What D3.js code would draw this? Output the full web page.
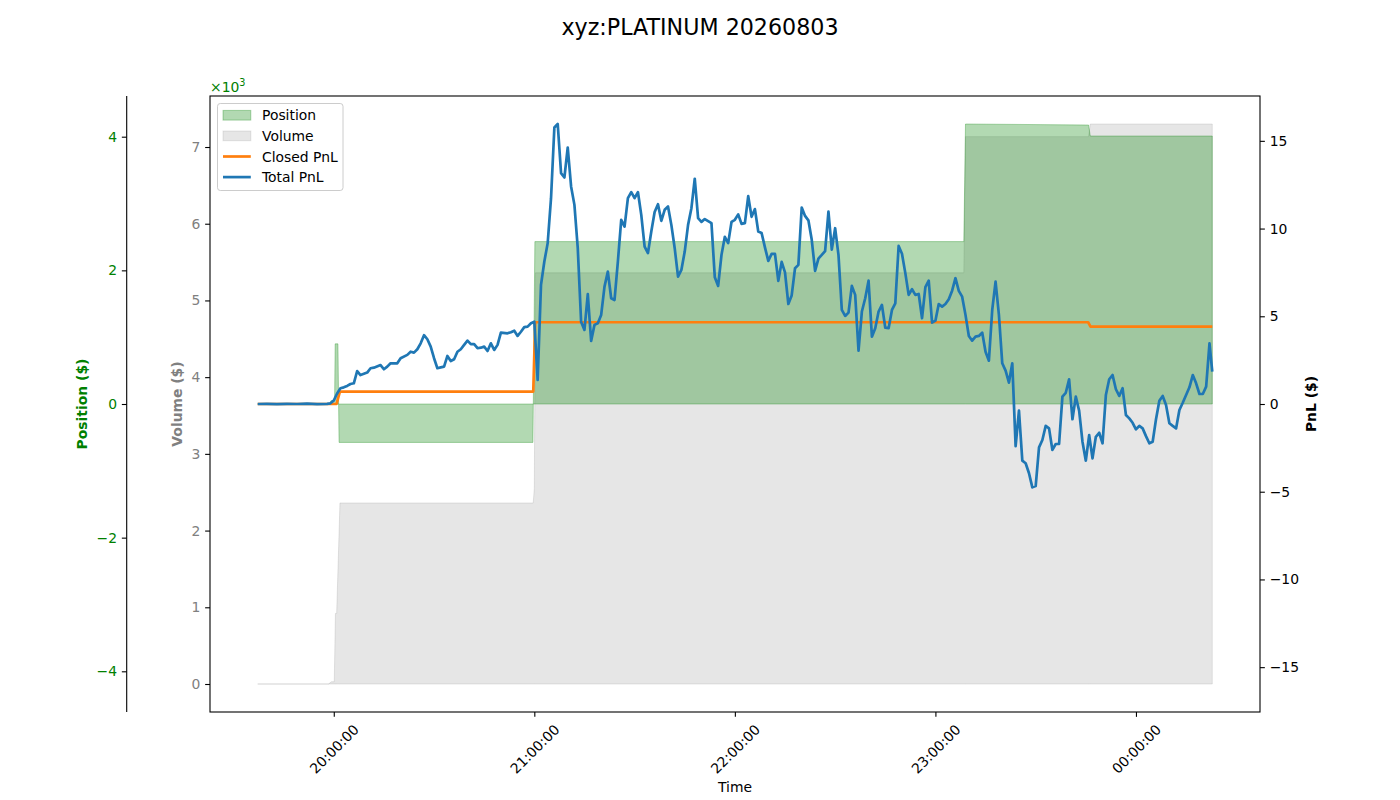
<!DOCTYPE html>
<html>
<head>
<meta charset="utf-8">
<script src="https://cdn.jsdelivr.net/npm/d3@7"></script>
<style>
  body { margin: 0; background: #fff; }
  text { font-family: "DejaVu Sans", sans-serif; }
</style>
</head>
<body>
<svg id="chart" width="1400" height="800"></svg>
<script>
// ---------------- DATA ----------------
const chartTitle = "xyz:PLATINUM 20260803";

// Position ($) – breakpoints of the position series
const posTimes  = ["19:37:15","19:58:50","19:59:10","20:00:15","20:00:25","20:01:15","20:01:35","20:59:35","21:00:10","23:08:30","23:09:00","23:45:50","23:46:20","00:22:50"];
const posValues = [0, 0, 50, 50, 900, 900, -575, -575, 2430, 2430, 4190, 4175, 4010, 4010];

// Volume ($) – cumulative traded volume
const volTimes  = ["19:37:15","19:58:25","19:59:20","20:00:09","20:00:30","20:00:52","20:01:51","20:59:40","21:00:00","21:00:20","23:08:30","23:09:00","23:45:50","23:46:20","00:22:50"];
const volValues = [0, 0, 30, 30, 920, 920, 2360, 2360, 2550, 5360, 5360, 7135, 7135, 7300, 7300];

// Closed PnL ($)
const closedTimes  = ["19:37:15","20:00:50","20:01:50","20:59:41","21:00:16","23:45:42","23:46:24","00:22:50"];
const closedValues = [0, 0, 0.71, 0.71, 4.66, 4.66, 4.41, 4.41];

// Total PnL ($)
const pnlTimes = [
 "19:37:15","19:40","19:43","19:46","19:49","19:52","19:55","19:58","19:59","20:00",
 "20:01","20:02","20:03","20:04","20:05","20:06","20:07","20:08","20:10","20:11",
 "20:12","20:14","20:15","20:16","20:17","20:19","20:20","20:22","20:23","20:24",
 "20:25","20:26","20:27","20:28","20:29","20:30","20:31","20:32","20:33","20:34",
 "20:35","20:36","20:37","20:38","20:39","20:40","20:41","20:42","20:43","20:44",
 "20:45","20:46","20:47","20:48","20:49","20:50","20:52","20:53","20:54","20:55",
 "20:56","20:57","20:58","20:59","21:00","21:01","21:02","21:03","21:04","21:05",
 "21:06","21:07","21:08","21:09","21:10","21:11","21:12","21:13","21:14","21:15",
 "21:16","21:17","21:18","21:19","21:20","21:21","21:22","21:23","21:24","21:25",
 "21:26","21:27","21:28","21:29","21:30","21:31","21:32","21:33","21:34","21:35",
 "21:36","21:37","21:38","21:39","21:40","21:41","21:42","21:43","21:44","21:45",
 "21:46","21:47","21:48","21:49","21:50","21:51","21:53","21:54","21:55","21:56",
 "21:57","21:58","21:59","22:00","22:01","22:02","22:03","22:04","22:05","22:06",
 "22:07","22:08","22:09","22:10","22:11","22:12","22:13","22:14","22:15","22:16",
 "22:17","22:18","22:19","22:20","22:21","22:22","22:23","22:24","22:25","22:26",
 "22:27","22:28","22:29","22:30","22:31","22:32","22:33","22:34","22:35","22:36",
 "22:37","22:38","22:39","22:40","22:41","22:42","22:43","22:44","22:45","22:46",
 "22:47","22:48","22:49","22:50","22:51","22:52","22:53","22:54","22:55","22:56",
 "22:57","22:58","22:59","23:00","23:01","23:02","23:03","23:04","23:05","23:06",
 "23:07","23:08","23:09","23:10","23:11","23:12","23:13","23:14","23:15","23:16",
 "23:17","23:18","23:19","23:20","23:21","23:22","23:23","23:24","23:25","23:26",
 "23:27","23:28","23:29","23:30","23:31","23:32","23:33","23:34","23:35","23:36",
 "23:37","23:38","23:39","23:40","23:41","23:42","23:43","23:44","23:45","23:46",
 "23:47","23:48","23:49","23:50","23:51","23:52","23:53","23:54","23:55","23:56",
 "23:57","23:58","23:59","00:00","00:01","00:02","00:03","00:04","00:05","00:06",
 "00:07","00:08","00:09","00:10","00:11","00:12","00:13","00:14","00:15","00:16",
 "00:17","00:18","00:19","00:20","00:21","00:22","00:22:50"
];
const pnlValues = [
 0.00, 0.01,-0.01, 0.01, 0.00, 0.02,-0.01, 0.01, 0.04, 0.20,
 0.60, 0.90, 0.95, 1.03, 1.14, 1.18, 1.88, 1.65, 1.79, 2.04,
 2.07, 2.22, 1.98, 2.13, 2.32, 2.32, 2.61, 2.80, 2.98, 2.93,
 3.12, 3.46, 3.92, 3.69, 3.27, 2.61, 2.04, 2.09, 2.13, 2.74,
 2.45, 2.55, 2.98, 3.12, 3.37, 3.61, 3.41, 3.41, 3.18, 3.21,
 3.27, 3.02, 3.46, 3.08, 3.37, 4.07, 4.03, 4.09, 4.18, 3.88,
 4.12, 4.38, 4.41, 4.60, 4.69, 1.37, 6.79, 8.12, 9.17,11.73,
15.76,15.96,13.16,12.91,14.62,12.40,11.35, 8.88, 4.69, 4.22,
 6.26, 3.59, 4.51, 4.60, 5.08, 6.69, 7.55, 6.03, 5.93, 8.12,
10.50,10.11,11.73,12.08,11.73,12.08,10.78, 8.97, 8.60, 9.83,
10.94,11.39,10.44,11.07,11.26,10.21, 8.88, 7.26, 7.64, 8.69,
10.21,11.16,12.84,10.59,10.38,10.54,10.31, 7.22, 6.73, 8.50,
 9.53, 9.17,10.38,10.50,10.81,10.27,10.31,11.85,10.67,11.11,
 9.83, 9.75, 8.93, 8.16, 8.56, 8.56, 7.02, 8.10, 7.50, 5.70,
 6.19, 7.74, 7.93,11.20,10.72,10.47, 9.36, 7.59, 8.29, 8.50,
 8.72,10.97, 8.80,10.02, 8.50, 5.36, 5.02, 5.21, 6.73, 6.22,
 3.04, 5.27, 6.03, 7.03, 3.84, 4.32, 5.27, 5.65, 4.35, 4.32,
 5.36, 5.74, 9.01, 8.56, 7.46, 6.22, 6.54, 6.22, 6.27, 4.89,
 6.66, 7.03, 4.64, 4.75, 5.70, 5.55, 5.70, 5.97, 6.46, 7.17,
 6.45, 6.12, 5.08, 3.88, 3.61, 3.84, 3.88, 4.07, 2.98, 2.47,
 5.36, 6.98, 5.08, 2.32, 1.90, 1.22, 2.32,-2.40,-0.38,-3.23,
-3.38,-3.95,-4.75,-4.68,-2.47,-2.05,-1.25,-1.39,-2.62,-2.28,
-2.28, 0.42, 0.64, 1.41,-0.87, 0.42,-0.38,-2.15,-3.23,-1.77,
-3.10,-1.87,-1.64,-2.24, 0.51, 1.41, 1.65, 0.84, 0.46, 0.90,
-0.63,-0.82,-1.07,-1.44,-1.25,-1.39,-1.83,-2.24,-2.15,-0.87,
 0.19, 0.46,-0.06,-1.10,-1.25,-1.39,-0.34, 0.07, 0.51, 0.95,
 1.65, 1.18, 0.57, 0.57, 0.99, 3.46, 1.84
];

// Tick values / labels
const xTickTimes = ["20:00:00","21:00:00","22:00:00","23:00:00","00:00:00"];
const posTicks = [-4000, -2000, 0, 2000, 4000];
const volTicks = [0, 1000, 2000, 3000, 4000, 5000, 6000, 7000];
const pnlTicks = [-15, -10, -5, 0, 5, 10, 15];
const legendLabels = ["Position", "Volume", "Closed PnL", "Total PnL"];

// ---------------- HELPERS ----------------
function parseT(s) {
  const p = s.split(":").map(Number);
  const h = p[0], m = p[1], sec = p[2] || 0;
  const day = h < 12 ? 4 : 3;              // after midnight -> next day
  return new Date(2026, 7, day, h, m, sec);
}
const minus = s => String(s).replace("-", "\u2212");

const posData = posTimes.map((t, i) => ({ t: parseT(t), v: posValues[i] }));
const volData = volTimes.map((t, i) => ({ t: parseT(t), v: volValues[i] }));
const closedData = closedTimes.map((t, i) => ({ t: parseT(t), v: closedValues[i] }));
const pnlData = pnlTimes.map((t, i) => ({ t: parseT(t), v: pnlValues[i] }));

// ---------------- LAYOUT ----------------
const L = 210, R = 1260, T = 96, B = 712;
const FS = 13.9;          // 10pt
const tickLen = 4.86, tickPad = 4.86;
const LW = 2.7;           // line width of PnL lines

const svg = d3.select("#chart");
svg.append("rect").attr("width", 1400).attr("height", 800).attr("fill", "#fff");

// scales
const allT = [...posData, ...volData, ...closedData, ...pnlData].map(d => d.t);
const [t0, t1] = d3.extent(allT);
const tpad = (t1 - t0) * 0.05;
const x = d3.scaleTime().domain([new Date(+t0 - tpad), new Date(+t1 + tpad)]).range([L, R]);

const posMax = d3.max(posData, d => Math.abs(d.v)) * 1.1;
const yPos = d3.scaleLinear().domain([-posMax, posMax]).range([B, T]);

const vExt = d3.extent(volData, d => d.v);
const vpad = (vExt[1] - vExt[0]) * 0.05;
const yVol = d3.scaleLinear().domain([vExt[0] - vpad, vExt[1] + vpad]).range([B, T]);

const pnlMax = d3.max([...pnlData, ...closedData], d => Math.abs(d.v)) * 1.1;
const yPnl = d3.scaleLinear().domain([-pnlMax, pnlMax]).range([B, T]);

// clip
svg.append("defs").append("clipPath").attr("id", "plotclip")
  .append("rect").attr("x", L).attr("y", T).attr("width", R - L).attr("height", B - T);
const plot = svg.append("g").attr("clip-path", "url(#plotclip)");

// volume fill
const volColor = "rgba(128,128,128,0.2)";
plot.append("path").datum(volData)
  .attr("d", d3.area().x(d => x(d.t)).y0(yVol(0)).y1(d => yVol(d.v)))
  .attr("fill", volColor).attr("stroke", volColor).attr("stroke-width", 1);

// position fill
const posColor = "rgba(0,128,0,0.3)";
plot.append("path").datum(posData)
  .attr("d", d3.area().x(d => x(d.t)).y0(yPos(0)).y1(d => yPos(d.v)))
  .attr("fill", posColor).attr("stroke", posColor).attr("stroke-width", 1);

// closed PnL
plot.append("path").datum(closedData)
  .attr("d", d3.line().x(d => x(d.t)).y(d => yPnl(d.v)))
  .attr("fill", "none").attr("stroke", "#ff7f0e").attr("stroke-width", LW)
  .attr("stroke-linejoin", "round");

// total PnL
plot.append("path").datum(pnlData)
  .attr("d", d3.line().x(d => x(d.t)).y(d => yPnl(d.v)))
  .attr("fill", "none").attr("stroke", "#1f77b4").attr("stroke-width", LW)
  .attr("stroke-linejoin", "round");

// frame
svg.append("rect").attr("x", L).attr("y", T).attr("width", R - L).attr("height", B - T)
  .attr("fill", "none").attr("stroke", "#000").attr("stroke-width", 1.1);

function styleAxis(g, color) {
  g.select(".domain").remove();
  g.selectAll(".tick line").attr("stroke", "#000").attr("stroke-width", 1.1);
  g.selectAll(".tick text").attr("fill", color).style("font-size", FS + "px")
    .style("font-family", "DejaVu Sans, sans-serif");
}

// volume axis (inner left)
svg.append("g").attr("transform", `translate(${L},0)`)
  .call(d3.axisLeft(yVol).tickValues(volTicks).tickFormat(d => d / 1000)
        .tickSize(tickLen).tickPadding(tickPad))
  .call(g => styleAxis(g, "#808080"));

// position axis (outer left, with spine)
const posX = L - 83.3;
const posAxisG = svg.append("g").attr("transform", `translate(${posX},0)`)
  .call(d3.axisLeft(yPos).tickValues(posTicks).tickFormat(d => minus(d / 1000))
        .tickSize(tickLen).tickPadding(tickPad))
  .call(g => styleAxis(g, "#008000"));
posAxisG.append("line").attr("x1", 0).attr("x2", 0).attr("y1", T).attr("y2", B)
  .attr("stroke", "#000").attr("stroke-width", 1.1);

// PnL axis (right)
svg.append("g").attr("transform", `translate(${R},0)`)
  .call(d3.axisRight(yPnl).tickValues(pnlTicks).tickFormat(d => minus(d))
        .tickSize(tickLen).tickPadding(tickPad))
  .call(g => styleAxis(g, "#000"));

// x axis
const xAxisG = svg.append("g").attr("transform", `translate(0,${B})`)
  .call(d3.axisBottom(x).tickValues(xTickTimes.map(parseT))
        .tickFormat(d3.timeFormat("%H:%M:%S")).tickSize(tickLen).tickPadding(tickPad))
  .call(g => styleAxis(g, "#000"));
xAxisG.selectAll(".tick text")
  .attr("y", null).attr("dy", null)
  .attr("text-anchor", "middle")
  .attr("dominant-baseline", "central")
  .attr("transform", "translate(0,37) rotate(-45)");

// axis labels
svg.append("text").attr("x", 735).attr("y", 792).attr("text-anchor", "middle")
  .style("font-size", FS + "px").attr("fill", "#000").text("Time");

function yLabel(xp, txt, color) {
  svg.append("text")
    .attr("transform", `translate(${xp},${(T + B) / 2}) rotate(-90)`)
    .attr("text-anchor", "middle").attr("dy", "0.36em")
    .style("font-size", FS + "px").style("font-weight", "bold")
    .attr("fill", color).text(txt);
}
yLabel(82, "Position ($)", "#008000");
yLabel(177, "Volume ($)", "#808080");
yLabel(1311, "PnL ($)", "#000");

// offset text ×10^3
const off = svg.append("text").attr("x", L).attr("y", 92)
  .style("font-size", FS + "px").attr("fill", "#008000");
off.append("tspan").text("\u00d710");
off.append("tspan").attr("dy", -6).style("font-size", "9.7px").text("3");

// title
svg.append("text").attr("x", 700).attr("y", 35).attr("text-anchor", "middle")
  .style("font-size", "22.2px").attr("fill", "#000").text(chartTitle);

// legend
const lg = svg.append("g");
lg.append("rect").attr("x", 217.5).attr("y", 103.5).attr("width", 125.5).attr("height", 87)
  .attr("rx", 2.8).attr("fill", "rgba(255,255,255,0.8)").attr("stroke", "#cccccc").attr("stroke-width", 1);
const rowY = [115.3, 135.9, 156.5, 177.1];
const handles = [
  { type: "patch", color: posColor },
  { type: "patch", color: volColor },
  { type: "line", color: "#ff7f0e" },
  { type: "line", color: "#1f77b4" }
];
handles.forEach((h, i) => {
  const cy = rowY[i];
  if (h.type === "patch") {
    lg.append("rect").attr("x", 223).attr("y", cy - 4.9).attr("width", 27.8).attr("height", 9.7)
      .attr("fill", h.color).attr("stroke", h.color).attr("stroke-width", 1);
  } else {
    lg.append("line").attr("x1", 223).attr("x2", 250.8).attr("y1", cy).attr("y2", cy)
      .attr("stroke", h.color).attr("stroke-width", LW);
  }
  lg.append("text").attr("x", 262).attr("y", cy).attr("dy", "0.36em")
    .style("font-size", FS + "px").attr("fill", "#000").text(legendLabels[i]);
});
</script>
</body>
</html>
